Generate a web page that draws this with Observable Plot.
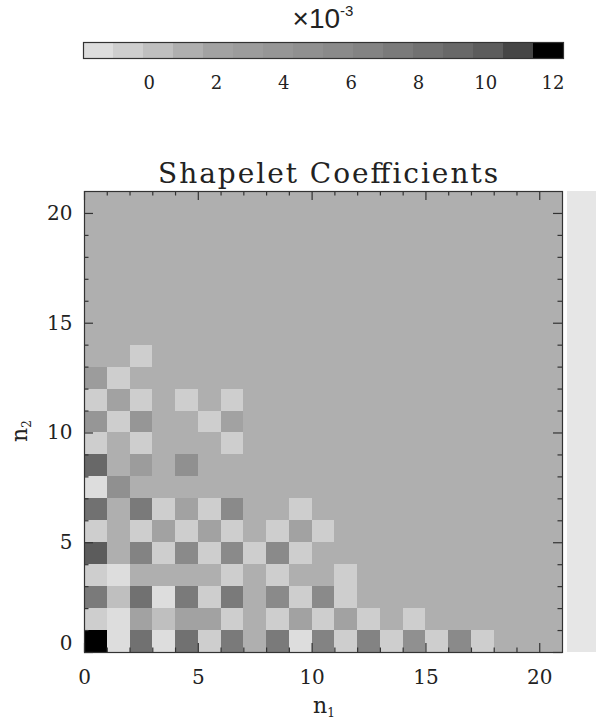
<!DOCTYPE html>
<html>
<head>
<meta charset="utf-8">
<script src="https://cdn.jsdelivr.net/npm/d3@7"></script>
<script src="https://cdn.jsdelivr.net/npm/@observablehq/plot@0.6"></script>
<style>
  body { margin: 0; background: #fff; }
  #page { position: relative; width: 596px; height: 722px; overflow: hidden; background: #fff; }
  #page > * { position: absolute; left: 0; }
</style>
</head>
<body>
<div id="page"></div>
<script>
// ---------- data (coefficient values in units of 1e-3) ----------
const colorbarRange = [-1.95, 12.31];
const colorbarLevels = 16;
const colorbarTicks = [0, 2, 4, 6, 8, 10, 12];
const grayLevels = ["#dddddd", "#cecece", "#bfbfbf", "#afafaf", "#a2a2a2", "#9c9c9c", "#969696", "#909090",
                    "#8a8a8a", "#838383", "#7a7a7a", "#717171", "#686868", "#5c5c5c", "#454545", "#000000"];
const gridSize = 21;              // n1, n2 = 0..20
const axisMajorTicks = [0, 5, 10, 15, 20];
const backgroundLevel = 1.2;      // flat level of all unlisted coefficients
// coefficient rows, one per n2 (index = n1); cells beyond a row's end take the background level
const row0  = [12.0, -1.5, 8.3, -1.5, 8.3, -0.6, 7.4, 1.2, 7.4, -1.5, 6.5, -0.6, 6.5, -0.6, 4.7, -0.6, 5.6, -0.6];
const row1  = [-0.6, -1.5, 2.1, 0.3, 2.1, 2.1, -0.6, 1.2, -0.6, 2.1, -0.6, 2.1, -0.6, 1.2, -0.6];
const row2  = [7.4, 0.3, 8.3, -1.5, 7.4, -0.6, 7.4, 1.2, 5.6, -0.6, 5.6, -0.6];
const row3  = [-0.6, -1.5, 1.2, 1.2, 1.2, 1.2, -0.6, 1.2, -0.6, 1.2, 1.2, -0.6];
const row4  = [10.1, 1.2, 6.5, -0.6, 5.6, -0.6, 5.6, -0.6, 5.6, -0.6];
const row5  = [-0.6, 1.2, -0.6, 2.1, -0.6, 2.1, -0.6, 1.2, -0.6, 2.1, -0.6];
const row6  = [8.3, 1.2, 7.4, -0.6, 2.1, -0.6, 5.6, 1.2, 1.2, -0.6];
const row7  = [-1.5, 4.7];
const row8  = [9.2, 1.2, 3.0, 1.2, 4.7];
const row9  = [-0.6, 1.2, -0.6, 1.2, 1.2, 1.2, -0.6];
const row10 = [3.8, -0.6, 3.8, 1.2, 1.2, -0.6, 2.1];
const row11 = [-0.6, 2.1, -0.6, 1.2, -0.6, 1.2, -0.6];
const row12 = [3.0, -0.6];
const row13 = [1.2, 1.2, -0.6];
const coeffRows = [row0, row1, row2, row3, row4, row5, row6, row7, row8, row9, row10, row11, row12, row13];

// ---------- derived tables ----------
const cells = [];
for (let n2 = 0; n2 < gridSize; n2++) {
  for (let n1 = 0; n1 < gridSize; n1++) {
    const r = coeffRows[n2];
    const v = (r && r[n1] !== undefined) ? r[n1] : backgroundLevel;
    cells.push({n1, n2, value: v});
  }
}
const step = (colorbarRange[1] - colorbarRange[0]) / colorbarLevels;
const thresholds = d3.range(1, colorbarLevels).map(k => colorbarRange[0] + k * step);
const colorbarBins = d3.range(colorbarLevels).map(i => ({
  lo: colorbarRange[0] + i * step, hi: colorbarRange[0] + (i + 1) * step, mid: colorbarRange[0] + (i + 0.5) * step
}));
const colorSpec = {type: "threshold", domain: thresholds, range: grayLevels};

const page = document.getElementById("page");

// ---------- colour bar ----------
const colorbar = Plot.plot({
  width: 596, height: 100,
  marginTop: 42, marginBottom: 42, marginLeft: 83, marginRight: 33,
  x: {domain: colorbarRange, label: null},
  color: colorSpec,
  style: {fontFamily: "DejaVu Serif", fontSize: "18px", color: "#222", background: "transparent"},
  marks: [
    Plot.rect(colorbarBins, {x1: "lo", x2: "hi", fill: "mid", shapeRendering: "crispEdges"}),
    Plot.frame({stroke: "#333", strokeWidth: 1.2}),
    Plot.axisX({ticks: colorbarTicks, tickSize: 0, tickPadding: 18, fontSize: 18, label: null})
  ]
});
colorbar.style.top = "0px";
page.appendChild(colorbar);

// ---------- heat map ----------
const W = 596, H = 622, mT = 91, mB = 70, mL = 84, mR = 34;
const unitsPerPxX = gridSize / (W - mL - mR);
const unitsPerPxY = gridSize / (H - mT - mB);
const minorTicks = d3.range(1, gridSize).filter(v => v % 5 !== 0);
function sideTicks(values, lenPx) {
  const lx = lenPx * unitsPerPxX, ly = lenPx * unitsPerPxY;
  const st = {stroke: "#333", strokeWidth: 1.2};
  return [
    Plot.ruleX(values, {x: d => d, y1: 0, y2: ly, ...st}),
    Plot.ruleX(values, {x: d => d, y1: gridSize - ly, y2: gridSize, ...st}),
    Plot.ruleY(values, {y: d => d, x1: 0, x2: lx, ...st}),
    Plot.ruleY(values, {y: d => d, x1: gridSize - lx, x2: gridSize, ...st})
  ];
}

const heat = Plot.plot({
  width: W, height: H,
  marginTop: mT, marginBottom: mB, marginLeft: mL, marginRight: mR,
  x: {domain: [0, gridSize], label: null},
  y: {domain: [0, gridSize], label: null},
  color: colorSpec,
  style: {fontFamily: "DejaVu Serif", fontSize: "20px", color: "#222", background: "transparent"},
  marks: [
    Plot.rect(cells, {x1: "n1", x2: d => d.n1 + 1, y1: "n2", y2: d => d.n2 + 1, fill: "value", shapeRendering: "crispEdges"}),
    ...sideTicks(axisMajorTicks, 9),
    ...sideTicks(minorTicks, 4.5),
    Plot.frame({stroke: "#333", strokeWidth: 1.2}),
    Plot.axisX({ticks: axisMajorTicks, tickSize: 0, tickPadding: 17, fontSize: 20, label: null}),
    Plot.axisY({ticks: axisMajorTicks.filter(v => v > 0), tickSize: 0, tickPadding: 12, fontSize: 20, label: null}),
    Plot.axisY({ticks: [0], tickSize: 0, tickPadding: 12, fontSize: 20, dy: -9, label: null})
  ]
});
heat.style.top = "100px";
page.appendChild(heat);

// ---------- texts and side strip ----------
const ns = "http://www.w3.org/2000/svg";
const overlay = document.createElementNS(ns, "svg");
overlay.setAttribute("width", 596);
overlay.setAttribute("height", 722);
overlay.style.top = "0px";
overlay.style.pointerEvents = "none";
overlay.innerHTML = `
  <rect x="567" y="191" width="29" height="461" fill="#e6e6e6"></rect>
  <text x="323" y="28" text-anchor="middle" font-family="Liberation Sans" font-size="28" fill="#222">×10<tspan font-size="15" dy="-12">-3</tspan></text>
  <text x="328" y="183" text-anchor="middle" font-family="DejaVu Serif" font-size="28" fill="#222" textLength="340" lengthAdjust="spacing">Shapelet Coefficients</text>
  <text x="324" y="713" text-anchor="middle" font-family="DejaVu Serif" font-size="22" fill="#222">n<tspan font-size="12" dy="4">1</tspan></text>
  <text transform="translate(27,431) rotate(-90)" text-anchor="middle" font-family="DejaVu Serif" font-size="22" fill="#222">n<tspan font-size="12" dy="4">2</tspan></text>
`;
page.appendChild(overlay);
</script>
</body>
</html>
